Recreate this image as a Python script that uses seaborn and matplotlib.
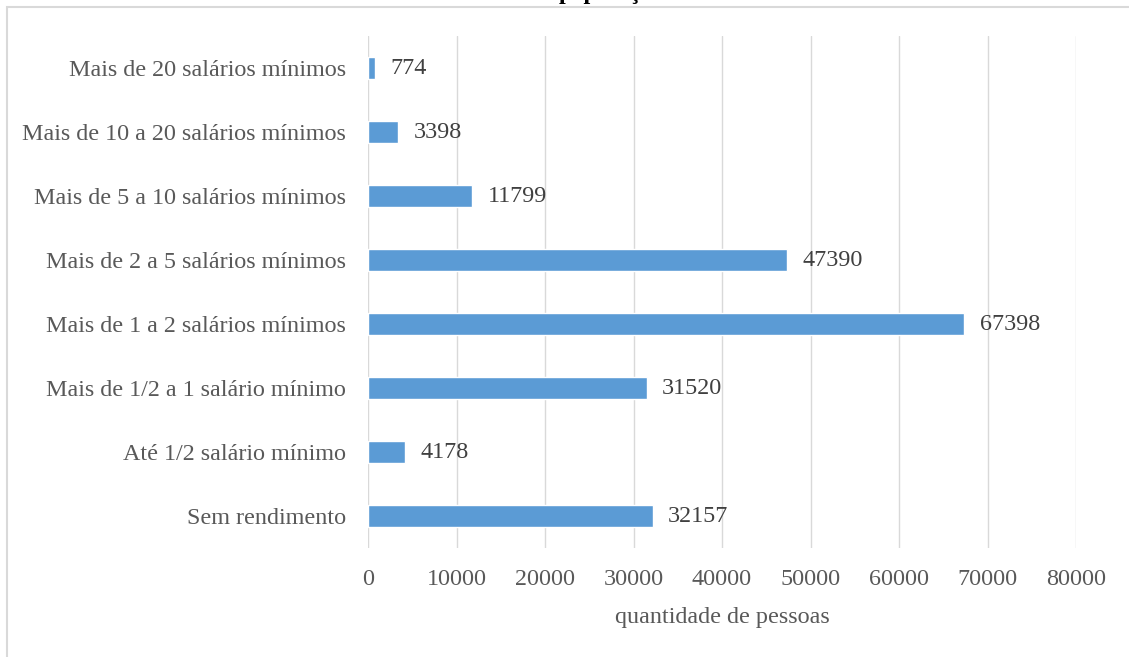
import matplotlib
matplotlib.use("Agg")
import matplotlib.pyplot as plt
import seaborn as sns
import pandas as pd
from matplotlib.patches import Rectangle

categories = [
    "Mais de 20 salários mínimos",
    "Mais de 10 a 20 salários mínimos",
    "Mais de 5 a 10 salários mínimos",
    "Mais de 2 a 5 salários mínimos",
    "Mais de 1 a 2 salários mínimos",
    "Mais de 1/2 a 1 salário mínimo",
    "Até 1/2 salário mínimo",
    "Sem rendimento",
]
values = [774, 3398, 11799, 47390, 67398, 31520, 4178, 32157]
xticks = [0, 10000, 20000, 30000, 40000, 50000, 60000, 70000, 80000]
title_text = "população"
xlabel_text = "quantidade de pessoas"

sns.set_style("white")
plt.rcParams["font.family"] = ["Liberation Serif", "DejaVu Serif"]

df = pd.DataFrame({"cat": categories, "val": values})

FS = 17.4
W, H = 1129, 657
fig = plt.figure(figsize=(W / 100, H / 100), dpi=100)
ax = fig.add_axes([368 / W, 1 - 548 / H, (1076 - 368) / W, (548 - 36) / H])

sns.barplot(data=df, y="cat", x="val", orient="h", color="#5B9BD5",
            width=0.35, ax=ax, saturation=1)

ax.set_xlim(0, 80000)
ax.set_ylim(7.5, -0.5)
ax.set_xticks(xticks)
ax.set_xticklabels([str(t) for t in xticks])
ax.grid(axis="x", color="#D9D9D9", linewidth=1.0)
ax.grid(axis="y", visible=False)
ax.set_axisbelow(True)
for s in ax.spines.values():
    s.set_visible(False)
ax.tick_params(axis="both", length=0, labelsize=FS, labelcolor="#595959")
ax.tick_params(axis="y", pad=16)
ax.tick_params(axis="x", pad=15)
ax.set_ylabel("")
ax.set_xlabel(xlabel_text, fontsize=FS, color="#595959", labelpad=12)

for c in ax.containers:
    ax.bar_label(c, labels=[str(v) for v in values], padding=11,
                 fontsize=FS, color="#404040")

fig.text(612 / W, 1 + 1.5 / H, title_text, ha="center", va="baseline",
         fontsize=17.5, fontweight="bold", color="black")

fig.patches.append(Rectangle((6.5 / W, -0.1), 2, 1 - 7 / H + 0.1,
                             transform=fig.transFigure, fill=False,
                             edgecolor="#D9D9D9", linewidth=1.5))

fig.savefig("out.png", dpi=100)
